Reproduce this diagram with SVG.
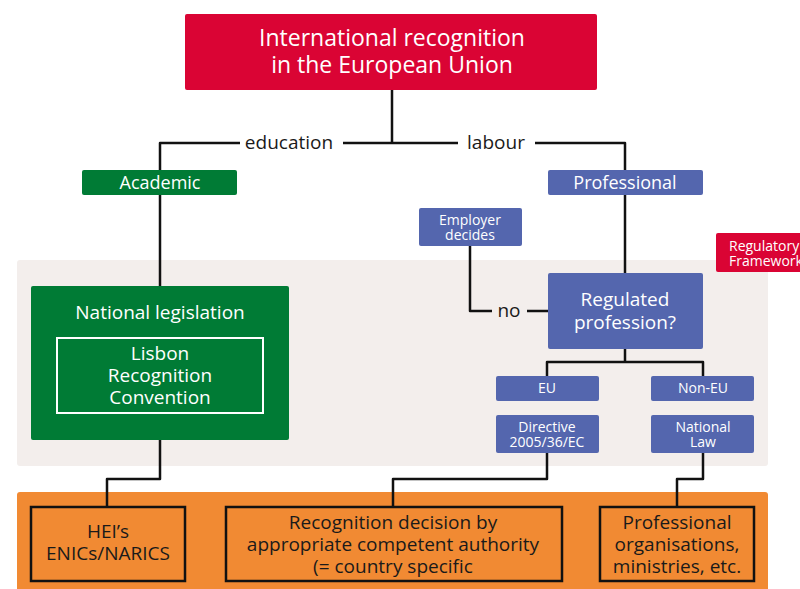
<svg xmlns="http://www.w3.org/2000/svg" width="800" height="589" viewBox="0 0 800 589">
<style>
text{font-family:"Open Sans","Noto Sans",sans-serif;text-anchor:middle}
.w{fill:#fff}
.k{fill:#1a1a1a}
.red{fill:#DA0434}
.grn{fill:#007B35}
.blu{fill:#5466AE}
.ln{fill:none;stroke:#111;stroke-width:2.5;stroke-linejoin:round}
.ob{fill:#F18A33;stroke:#111;stroke-width:2.5}
.s{font-size:14px}
.m{font-size:19px}
</style>
<rect x="17" y="260" width="751" height="206" rx="3" fill="#F3EEEC"/>
<rect x="17" y="492" width="751" height="100" rx="3" fill="#F18A33"/>
<g id="connectors">
<path class="ln" d="M392 90V143M392 143H343M240 143H160V170M392 143H458M535 143H625V170"/>
<path class="ln" d="M160 195V286"/>
<path class="ln" d="M625 195V273"/>
<path class="ln" d="M470 246V311H492M527 311H548"/>
<path class="ln" d="M625 349V362M547 376V362H703V376"/>
<path fill="none" stroke="#fff" stroke-width="2" d="M160 413V440"/>
<path class="ln" d="M160 440V479H107V507"/>
<path class="ln" d="M547 453V479H393V507"/>
<path class="ln" d="M703 453V479H677V507"/>
</g>
<g id="title"><rect class="red" x="185" y="14" width="412" height="76" rx="2"/>
<text class="w" x="392" y="46" font-size="23">International recognition</text>
<text class="w" x="392" y="73" font-size="23">in the European Union</text></g>
<g id="lbl-education"><text class="k m" x="289" y="149">education</text></g>
<g id="lbl-labour"><text class="k m" x="496" y="149">labour</text></g>
<g id="academic"><rect class="grn" x="82" y="170" width="155" height="25" rx="2"/>
<text class="w" x="160" y="189" font-size="18">Academic</text></g>
<g id="professional"><rect class="blu" x="548" y="170" width="155" height="25" rx="2"/>
<text class="w" x="625" y="189" font-size="18">Professional</text></g>
<g id="employer"><rect class="blu" x="419" y="208" width="103" height="38" rx="2"/>
<text class="w s" x="470" y="225">Employer</text>
<text class="w s" x="470" y="240">decides</text></g>
<g id="regframe"><rect class="red" x="716" y="233" width="90" height="39" rx="2"/>
<text class="w s" x="729" y="251" style="text-anchor:start">Regulatory</text>
<text class="w s" x="729" y="266" style="text-anchor:start">Framework</text></g>
<g id="natleg"><rect class="grn" x="31" y="286" width="258" height="154" rx="2"/>
<text class="w m" x="160" y="319">National legislation</text>
<rect x="57" y="338" width="206" height="75" fill="none" stroke="#fff" stroke-width="2"/>
<text class="w m" x="160" y="360">Lisbon</text>
<text class="w m" x="160" y="382">Recognition</text>
<text class="w m" x="160" y="404">Convention</text></g>
<g id="lbl-no"><text class="k m" x="509" y="317">no</text></g>
<g id="regulated"><rect class="blu" x="548" y="273" width="155" height="76" rx="2"/>
<text class="w m" x="625" y="306">Regulated</text>
<text class="w m" x="625" y="329">profession?</text></g>
<g id="eu"><rect class="blu" x="496" y="376" width="103" height="25" rx="2"/>
<text class="w s" x="547" y="393">EU</text></g>
<g id="noneu"><rect class="blu" x="651" y="376" width="103" height="25" rx="2"/>
<text class="w s" x="703" y="393">Non-EU</text></g>
<g id="directive"><rect class="blu" x="496" y="415" width="103" height="38" rx="2"/>
<text class="w s" x="547" y="432">Directive</text>
<text class="w s" x="547" y="447">2005/36/EC</text></g>
<g id="natlaw"><rect class="blu" x="651" y="415" width="103" height="38" rx="2"/>
<text class="w s" x="703" y="432">National</text>
<text class="w s" x="703" y="447">Law</text></g>
<g id="hei"><rect class="ob" x="31" y="507" width="154" height="74"/>
<text class="k m" x="108" y="538">HEI’s</text>
<text class="k m" x="108" y="560">ENICs/NARICS</text></g>
<g id="decision"><rect class="ob" x="226" y="507" width="336" height="74"/>
<text class="k m" x="393" y="529">Recognition decision by</text>
<text class="k m" x="393" y="551">appropriate competent authority</text>
<text class="k m" x="393" y="573">(= country specific</text></g>
<g id="profo"><rect class="ob" x="600" y="507" width="154" height="74"/>
<text class="k m" x="677" y="529">Professional</text>
<text class="k m" x="677" y="551">organisations,</text>
<text class="k m" x="677" y="573">ministries, etc.</text></g>
</svg>
